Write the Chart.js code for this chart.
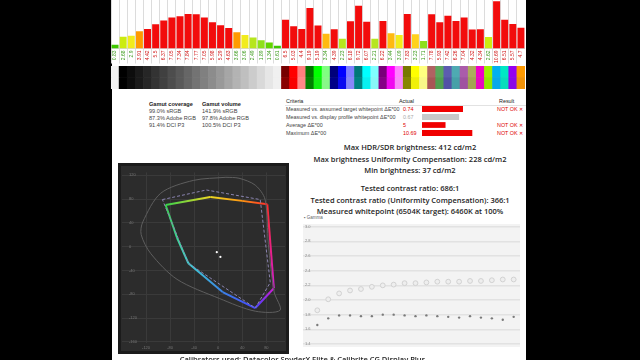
<!DOCTYPE html>
<html><head><meta charset="utf-8">
<script src="https://cdn.jsdelivr.net/npm/chart.js@4.4.1/dist/chart.umd.min.js"></script>
<style>
html,body{margin:0;padding:0;background:#000;width:640px;height:360px;overflow:hidden;position:relative;}
#panel{position:absolute;left:112px;top:0;width:414px;height:360px;background:#fff;}
.abs{position:absolute;}
canvas{display:block;}
.sm{font-family:"Liberation Sans",Arial,sans-serif;font-size:5.4px;color:#333;white-space:nowrap;}
.gam{font-family:"Liberation Sans",Arial,sans-serif;font-size:5.6px;line-height:7px;color:#444;white-space:nowrap;}
.gam b{color:#222;}
.big{font-family:"Open Sans",sans-serif;font-weight:600;font-size:7.5px;line-height:10px;color:#1e1e1e;text-align:center;white-space:nowrap;}
.row{position:absolute;height:8px;line-height:8px;}
</style></head><body>
<div id="panel"></div>

<canvas id="deBars" class="abs" style="left:111px;top:0" width="414" height="64"></canvas>
<canvas id="patches" class="abs" style="left:111px;top:66px" width="414" height="23"></canvas>

<div id="gamutCov" class="abs gam" style="left:149px;top:100.5px"></div>
<div id="gamutVol" class="abs gam" style="left:202px;top:100.5px"></div>

<div id="table" class="abs sm" style="left:285px;top:97px;width:241px;height:40px"></div>
<canvas id="critBars" class="abs" style="left:422px;top:105px" width="72" height="32"></canvas>

<div id="bigText"></div>

<canvas id="gamut" class="abs" style="left:118px;top:163px" width="171" height="191"></canvas>

<div class="abs sm" style="left:304px;top:215px;font-size:4.5px;color:#666">&#9642; Gamma</div>
<canvas id="gamma" class="abs" style="left:295px;top:214px" width="230" height="141"></canvas>

<div class="abs big" style="left:150px;top:354px;width:305px">Calibrators used: Datacolor SpyderX Elite &amp; Calibrite CG Display Plus</div>

<script>
// ---------- DATA ----------
const deValues = [0.83,2.68,2.9,3.91,4.42,5.5,6.37,7.05,7.34,7.84,7.77,7.05,5.98,5.29,4.63,3.66,3.06,2.49,1.89,1.34,0.61,
  6.5,5.03,4.4,9.19,5.19,3.34,4.39,2.23,6.18,9.72,6.07,2.21,6.22,3.44,3.09,7.83,3.23,1.71,
  7.78,5.93,7.42,6.26,7.04,4.32,4.34,2.62,10.69,6.51,5.57,4.7];
const deTickLabels = deValues.map(v => String(v));

const patchTop = ['#f2f2f2','#000000','#0d0d0d','#1a1a1a','#262626','#333333','#404040','#4d4d4d','#595959','#666666','#737373',
  '#808080','#8c8c8c','#999999','#a6a6a6','#b3b3b3','#bfbfbf','#cccccc','#d9d9d9','#e6e6e6','#f0f0f0',
  '#760000','#ff0000','#ff7f7f','#007400','#00ff00','#80ff80','#00007a','#0000ff','#8080ff','#007878','#00ffff','#80ffff',
  '#780078','#ff00ff','#ff80ff','#787800','#ffff00','#ffff80',
  '#b06262','#58a85c','#5c5cb0','#4eaab2','#aa5caa','#acac5c','#f000c8','#9cf000','#00b0f0','#00e8c4','#9400f0','#ff9a00'];
const patchBottom = ['#f2f2f2','#000000','#0d0d0d','#1a1a1a','#262626','#333333','#404040','#4d4d4d','#595959','#666666','#737373',
  '#808080','#8c8c8c','#999999','#a6a6a6','#b3b3b3','#bfbfbf','#cccccc','#d9d9d9','#e6e6e6','#f0f0f0',
  '#880000','#f80000','#ff8888','#008200','#10f010','#88f888','#000088','#0a0af0','#8888f8','#008282','#08f0f0','#88f8f8',
  '#860086','#f008f0','#f888f8','#868600','#f0f008','#f8f888',
  '#a85656','#50a050','#5252a6','#46a0a8','#a052a0','#a4a452','#e808c0','#90e800','#08a8e8','#08dcbc','#8a08e6','#f09208'];

const gamutCoverage = ['Gamut coverage','99.0% sRGB','87.3% Adobe RGB','91.4% DCI P3'];
const gamutVolume = ['Gamut volume','141.9% sRGB','97.8% Adobe RGB','100.5% DCI P3'];

const criteriaNames = ['Measured vs. assumed target whitepoint \u0394E*00','Measured vs. display profile whitepoint \u0394E*00','Average \u0394E*00','Maximum \u0394E*00'];
const criteriaActualText = ['0.74','0.67','5','10.69'];
const criteriaResult = ['NOT OK \u2715','','NOT OK \u2715','NOT OK \u2715'];
const whitepointRows = [0.74, 0.67, null, null];
const deltaERows = [null, null, 5, 10.69];

const infoLines = ['Max HDR/SDR brightness: 412 cd/m2','Max brightness Uniformity Compensation: 228 cd/m2','Min brightness: 37 cd/m2',
  'Tested contrast ratio: 686:1','Tested contrast ratio (Uniformity Compensation): 366:1','Measured whitepoint (6504K target): 6460K at 100%'];

// a*b* gamut plot (a*, b*)
const measuredA = [-87.5,-13.2,39.8,81.6,92.5,61.6,7.3,-49.6,-68.5,-87.5];
const measuredB = [70.2,83.5,77.1,71.3,-69.8,-103.2,-76.3,-28,15,70.2];
const measuredHue = ['#36d24c','#ecd824','#ff9612','#ff2a2a','#d21ad2','#4444ff','#3c82e6','#3ed2d2','#3cd892','#36d24c'];
const targetA = [-92.8,-19.7,69.8,86.5,61.6,-49.6,-92.8];
const targetB = [79.3,95.4,79.3,-60.2,-103.2,-28,79.3];
const refA = [12.8,-41.5,-95.6,-125.4,-128.1,-111.9,-68.5,2,61.6,102.8,93,83.3,77.9,61.6,34.5,12.8];
const refB = [116.8,111.5,90,41.7,20.3,-11.9,-54.9,-87.1,-108.5,-106.9,-76.3,4.2,79.3,103.5,115.2,116.8];
const whiteA = [-2.4, 3.6];
const whiteB = [-9.2, -17.2];
const gamutXTicks = [-120,-80,-40,0,40,80];
const gamutYTicks = [120,80,40,0,-40,-80,-120,-160];

// gamma
const gammaX = [5,10,15,20,25,30,35,40,45,50,55,60,65,70,75,80,85,90,95];
const gammaUpper = [1.86,2.01,2.09,2.13,2.15,2.18,2.20,2.21,2.23,2.23,2.24,2.25,2.25,2.25,2.26,2.26,2.27,2.28,2.28];
const gammaLower = [1.66,1.75,1.79,1.79,1.78,1.78,1.80,1.80,1.79,1.78,1.79,1.78,1.77,1.76,1.78,1.76,1.75,1.73,1.77];
const gammaXTicks = [0,5,10,15,20,25,30,35,40,45,50,55,60,65,70,75,80,85,90,95];
const gammaYTicks = [1.4,1.5,1.6,1.7,1.8,1.9,2.0,2.1,2.2,2.3,2.4,2.5,2.6,2.7,2.8,2.9,3.0];

// ---------- HELPERS ----------
Chart.defaults.font.family = '"Liberation Sans", Arial, sans-serif';
Chart.defaults.animation = false;
Chart.defaults.responsive = false;
Chart.defaults.plugins.legend.display = false;
Chart.defaults.plugins.tooltip.enabled = false;

function deColor(v){
  if (v < 1) return '#3ec800';
  if (v < 1.5) return '#62d400';
  if (v < 2) return '#8ee01a';
  if (v < 2.55) return '#b6e61e';
  if (v < 2.8) return '#ccec10';
  if (v < 3.15) return '#f2ec1c';
  if (v < 3.3) return '#ffd21c';
  if (v < 3.5) return '#ffba10';
  if (v < 4) return '#ff9a00';
  return '#f20c0c';
}
function labelColor(v){ return v < 3.8 ? '#3c9a1c' : '#d01414'; }
const bgPlugin = {id:'bg', beforeDraw(chart, args, o){
  const {ctx, chartArea:a} = chart; ctx.save();
  if (o.canvas){ ctx.fillStyle = o.canvas; ctx.fillRect(0,0,chart.width,chart.height); }
  if (o.area){ ctx.fillStyle = o.area; ctx.fillRect(a.left,a.top,a.right-a.left,a.bottom-a.top); }
  if (o.frame){ ctx.strokeStyle = o.frame; ctx.lineWidth = 3; ctx.strokeRect(1.5,1.5,chart.width-3,chart.height-3); }
  ctx.restore();
}};
const zip = (xs, ys) => xs.map((x,i) => ({x, y: ys[i]}));

// ---------- TOP BAR CHART ----------
new Chart(document.getElementById('deBars'), {
  type:'bar',
  data:{labels: deTickLabels, datasets:[{data: deValues, backgroundColor: deValues.map(deColor), borderWidth:0, barPercentage:0.86, categoryPercentage:1}]},
  options:{layout:{padding:0},
    scales:{
      x:{grid:{color:'#dcdcdc', offset:true, drawTicks:true, tickLength:15, tickColor:'#dcdcdc'},
         border:{display:true, color:'#d6d6d6'},
         ticks:{autoSkip:false, minRotation:90, maxRotation:90, padding:-13, font:{size:5}, color:(c)=>labelColor(deValues[c.index])},
         afterFit:(s)=>{ s.height = 15.5; }},
      y:{display:false, min:0, max:11}
    }}
});

// ---------- PATCH STRIP ----------
new Chart(document.getElementById('patches'), {
  type:'bar',
  data:{labels: deTickLabels, datasets:[
    {data: deValues.map(() => 1), backgroundColor: patchBottom, borderWidth:0, barPercentage:1, categoryPercentage:1},
    {data: deValues.map(() => 1), backgroundColor: patchTop, borderWidth:0, barPercentage:1, categoryPercentage:1}]},
  options:{layout:{padding:0},
    scales:{x:{display:false, stacked:true}, y:{display:false, stacked:true, min:0, max:2}}}
});

// ---------- TEXT ----------
document.getElementById('gamutCov').innerHTML = gamutCoverage.map((t,i)=> i===0 ? '<b>'+t+'</b>' : t).join('<br>');
document.getElementById('gamutVol').innerHTML = gamutVolume.map((t,i)=> i===0 ? '<b>'+t+'</b>' : t).join('<br>');
const infoTops = [142, 153.5, 165, 183, 194.5, 206];
document.getElementById('bigText').innerHTML = infoLines.map((t,i) =>
  '<div class="abs big" style="left:290px;width:240px;top:'+infoTops[i]+'px">'+t+'</div>').join('');

const tbl = document.getElementById('table');
const rowTops = [8, 16, 24, 32];
let html = '<div class="row" style="top:0;left:1px;color:#222">Criteria</div>'+
  '<div class="row" style="top:0;left:114px;color:#222">Actual</div>'+
  '<div class="row" style="top:0;left:214px;color:#222">Result</div>'+
  '<div style="position:absolute;top:7.5px;left:0;width:241px;height:0;border-top:1px solid #e2e2e2"></div>';
criteriaNames.forEach((n,i)=>{
  const t = rowTops[i];
  const c = i===1 ? '#aaa' : '#e00000';
  html += '<div class="row" style="top:'+t+'px;left:1px;color:#444">'+n+'</div>';
  html += '<div class="row" style="top:'+t+'px;left:118px;color:'+c+'">'+criteriaActualText[i]+'</div>';
  html += '<div class="row" style="top:'+t+'px;left:212px;color:#e00000">'+criteriaResult[i]+'</div>';
});
tbl.innerHTML = html;

// ---------- TABLE BARS ----------
new Chart(document.getElementById('critBars'), {
  type:'bar',
  data:{labels: criteriaNames, datasets:[
    {data: whitepointRows, xAxisID:'xw', backgroundColor:['#f00000','#c8c8c8','#f00000','#f00000'], borderWidth:0, barPercentage:0.72, categoryPercentage:1, grouped:false},
    {data: deltaERows, xAxisID:'xd', backgroundColor:'#f00000', borderWidth:0, barPercentage:0.72, categoryPercentage:1, grouped:false}]},
  options:{indexAxis:'y', layout:{padding:0},
    scales:{xw:{type:'linear', display:false, min:0, max:1.3}, xd:{type:'linear', display:false, min:0, max:15.3}, y:{display:false}}}
});

// ---------- a*b* GAMUT ----------
new Chart(document.getElementById('gamut'), {
  type:'scatter',
  data:{datasets:[
    {data: zip(refA, refB), showLine:true, borderColor:'#5e5e5e', borderWidth:1, pointRadius:0, tension:0.3},
    {data: zip(targetA, targetB), showLine:true, borderColor:'#8a84b0', borderWidth:1, borderDash:[3,2], pointRadius:0},
    {data: zip(measuredA, measuredB), showLine:true, borderWidth:2, pointRadius:0,
      segment:{borderColor:(c)=>{
        const g = c.chart.ctx.createLinearGradient(c.p0.x, c.p0.y, c.p1.x, c.p1.y);
        g.addColorStop(0, measuredHue[c.p0DataIndex]); g.addColorStop(1, measuredHue[c.p1DataIndex]);
        return g; }}},
    {data: zip(whiteA, whiteB), pointRadius:1.1, pointBackgroundColor:'#ffffff', pointBorderWidth:0}
  ]},
  plugins:[bgPlugin],
  options:{layout:{padding:{left:2,right:2,top:2,bottom:2}},
    plugins:{bg:{canvas:'#2c2c2c', frame:'#1b1b1b'}},
    scales:{
      x:{min:-160, max:111, grid:{color:'#3a3a3a', drawTicks:false}, border:{display:false},
         afterBuildTicks:(s)=>{ s.ticks = gamutXTicks.map(v=>({value:v})); },
         ticks:{color:'#777', font:{size:4}, padding:2}, afterFit:(s)=>{ s.height = 9; }},
      y:{min:-162, max:125, grid:{color:'#3a3a3a', drawTicks:false}, border:{display:false},
         afterBuildTicks:(s)=>{ s.ticks = gamutYTicks.map(v=>({value:v})); },
         ticks:{color:'#777', font:{size:4}, mirror:true, padding:7}, afterFit:(s)=>{ s.width = 0; }}
    }}
});

// ---------- GAMMA ----------
new Chart(document.getElementById('gamma'), {
  type:'scatter',
  data:{datasets:[
    {label:'Gamma', data: zip(gammaX, gammaUpper), pointRadius:2.4, pointBorderColor:'#d2d2d2', pointBackgroundColor:'#eeeeee', pointBorderWidth:1},
    {label:'Gamma', data: zip(gammaX, gammaLower), pointRadius:1.2, pointBackgroundColor:'#7a7a7a', pointBorderWidth:0}
  ]},
  plugins:[bgPlugin],
  options:{layout:{padding:{left:8, right:5, top:10, bottom:0}},
    plugins:{bg:{area:'#f3f3f3'}},
    scales:{
      x:{min:-1.56, max:97.9, grid:{display:false}, border:{display:false},
         afterBuildTicks:(s)=>{ s.ticks = gammaXTicks.map(v=>({value:v})); },
         ticks:{color:'#888', font:{size:4}, padding:1}, afterFit:(s)=>{ s.height = 8; }},
      y:{min:1.359, max:3.037, grid:{color:'#e2e2e2', lineWidth:1.6, drawTicks:false}, border:{display:false},
         afterBuildTicks:(s)=>{ s.ticks = gammaYTicks.map(v=>({value:v})); },
         ticks:{color:'#888', font:{size:4}, mirror:true, padding:2, callback:(v)=>v.toFixed(1)}, afterFit:(s)=>{ s.width = 0; }}
    }}
});
</script>
</body></html>
